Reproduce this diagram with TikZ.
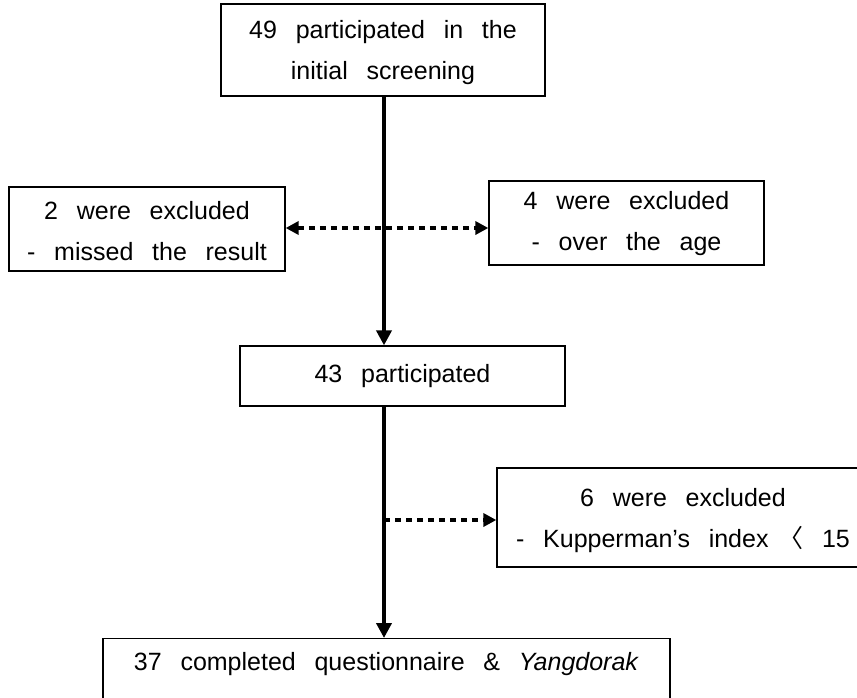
\documentclass[tikz,border=0pt]{standalone}
\usepackage{fontspec}
\setmainfont{Liberation Sans}[WordSpace=2.7]
\newfontfamily\cjk{Noto Sans CJK KR}
\usetikzlibrary{arrows.meta}
\begin{document}
\begin{tikzpicture}[x=1pt,y=-1pt,
  every node/.style={font=\fontsize{25}{41}\selectfont},
  box/.style={draw=black, line width=1.3pt, inner sep=0pt, align=center},
  solidarrow/.style={line width=4pt, -{Triangle[length=15pt,width=15pt]}},
  dotarrow/.style={line width=4pt, dash pattern=on 6pt off 5pt, -{Triangle[length=13pt,width=13pt]}}
]
\useasboundingbox (0,0) rectangle (857,697);
\node[box, minimum width=324pt, minimum height=92pt] (top) at (383,50)
  {\rule{0pt}{24pt}49 participated in the\\initial screening};
\node[box, minimum width=276pt, minimum height=84pt] (left) at (147,229)
  {\rule{0pt}{22pt}2 were excluded\\- missed the result};
\node[box, minimum width=275pt, minimum height=84pt] (right) at (626.5,223)
  {\rule{0pt}{20pt}4 were excluded\\- over the age};
\node[box, minimum width=325pt, minimum height=60pt] (mid) at (402.5,376)
  {43 participated};
\node[box, minimum width=372pt, minimum height=99pt] (excl) at (683,517.5)
  {\rule{0pt}{24pt}6 were excluded\\- Kupperman’s index\hspace{-9pt} {\cjk 〈} 15};
\node[box, minimum width=567pt, minimum height=120pt, anchor=north] (bot) at (386.5,638) {};
\node[anchor=center] (bottxt) at (386.5,664) {37 completed questionnaire \& \textit{Yangdorak}};
\coordinate (vx) at (384,0);
\coordinate (branch) at (384,520);
\draw[solidarrow] (top.south -| vx) -- (mid.north -| vx);
\draw[dotarrow, {Triangle[length=13pt,width=13pt]}-{Triangle[length=13pt,width=13pt]}] (left.east |- 0,228) -- (right.west |- 0,228);
\draw[solidarrow] (mid.south -| vx) -- (bot.north -| vx);
\draw[dotarrow] (branch) -- (branch -| excl.west);
\end{tikzpicture}
\end{document}
